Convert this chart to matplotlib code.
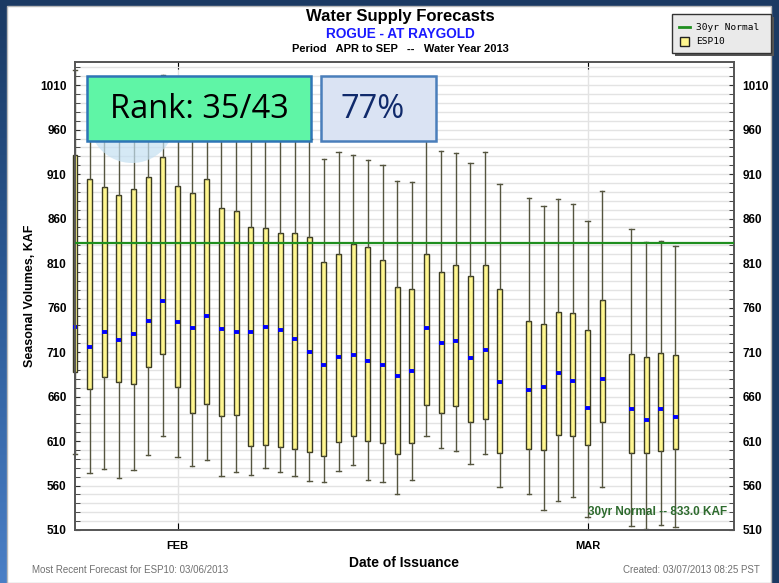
import matplotlib
matplotlib.use('Agg')
import matplotlib.pyplot as plt
import matplotlib.dates as mdates
from matplotlib.patches import Rectangle, Circle
import numpy as np
import pandas as pd

# ESP10 forecast spread for Rogue - At Raygold, Apr-Sep volume (KAF)
issue_dates = (list(pd.date_range('2013-01-25', '2013-02-23'))
               + list(pd.date_range('2013-02-25', '2013-03-02'))
               + list(pd.date_range('2013-03-04', '2013-03-07')))

ens_max = [1027, 1005, 1000, 995, 1010, 1015, 1021, 990, 985, 1000,
           975, 970, 960, 965, 960, 955, 950, 927, 935, 931,
           926, 920, 902, 901, 948, 936, 934, 922, 935, 899,
           883, 874, 882, 876, 857, 891,
           848, 834, 835, 829]
ens_q3 = [932, 904, 895, 886, 893, 907, 929, 897, 889, 904,
          872, 868, 851, 849, 844, 844, 839, 811, 820, 831,
          828, 814, 783, 781, 820, 800, 808, 796, 808, 781,
          745, 742, 755, 754, 735, 769,
          708, 705, 709, 707]
ens_median = [738, 716, 733, 724, 730, 745, 767, 744, 737, 750,
              736, 732, 732, 738, 735, 725, 710, 696, 705, 707,
              700, 695, 683, 689, 737, 720, 722, 703, 712, 676,
              667, 671, 686, 678, 647, 680,
              646, 634, 646, 637]
ens_q1 = [688, 668, 682, 676, 674, 693, 708, 671, 641, 652,
          638, 639, 604, 605, 603, 601, 598, 593, 609, 616,
          610, 608, 595, 608, 650, 641, 649, 631, 635, 596,
          601, 600, 617, 616, 606, 631,
          597, 597, 599, 601]
ens_min = [595, 574, 579, 569, 577, 594, 616, 592, 582, 589,
           571, 575, 572, 580, 575, 571, 565, 564, 576, 583,
           566, 564, 551, 566, 616, 602, 599, 584, 595, 558,
           550, 533, 543, 547, 525, 558,
           515, 511, 516, 513]

normal_kaf = 833.0
rank_text = 'Rank: 35/43'
pct_text = '77%'

W, H = 779, 583
fig = plt.figure(figsize=(W / 100, H / 100), dpi=100)
fig.patch.set_facecolor('#1b3a63')

# slide background + white chart panel
bg = fig.add_axes([0, 0, 1, 1], zorder=-5)
bg.set_xlim(0, W)
bg.set_ylim(H, 0)
bg.axis('off')
grad = np.linspace(0, 1, 200).reshape(-1, 1)
bg.imshow(grad, extent=(0, 7, H, 0), cmap=matplotlib.colors.LinearSegmentedColormap.from_list(
    'side', ['#1b3a63', '#2c5a96', '#4a7fc6']), aspect='auto')
bg.add_patch(Rectangle((7, 6), 764, H - 6, facecolor='white', edgecolor='#b8b8b8', lw=1))

# main plot
ax = fig.add_axes([75 / W, 1 - 530 / H, (734 - 75) / W, (530 - 62) / H], zorder=1)
x = mdates.date2num(issue_dates)
stats = [dict(whislo=lo, q1=a, med=m, q3=b, whishi=hi)
         for lo, a, m, b, hi in zip(ens_min, ens_q1, ens_median, ens_q3, ens_max)]
art = ax.bxp(stats, positions=x, widths=0.34, patch_artist=True, showfliers=False,
             manage_ticks=False, capwidths=0.3,
             boxprops=dict(facecolor='#fff68f', edgecolor='#3b3b22', lw=1),
             whiskerprops=dict(color='#55553f', lw=1),
             capprops=dict(color='#55553f', lw=1),
             medianprops=dict(color='#0000ff', lw=2.8, solid_capstyle='butt'))
for group in art.values():
    for a in group:
        a.set_clip_on(False)
        a.set_zorder(2)

ax.axhline(normal_kaf, color='#1f8f1f', lw=1.6, zorder=3)

x0 = mdates.date2num(pd.Timestamp('2013-01-25'))
ax.set_xlim(x0, x0 + 45)
ax.set_ylim(510, 1036)

ax.set_yticks(np.arange(510, 1011, 50))
ax.set_yticks(np.arange(510, 1036, 10), minor=True)
ax.set_xticks(mdates.date2num([pd.Timestamp('2013-02-01'), pd.Timestamp('2013-03-01')]))
ax.set_xticklabels(['FEB', 'MAR'])
ax.grid(True, which='both', axis='y', color='#e3e3e3', lw=1, zorder=0)
ax.grid(True, which='major', axis='x', color='#e3e3e3', lw=1, zorder=0)
ax.set_axisbelow(True)

lbl_font = dict(family=['Liberation Sans Narrow', 'Liberation Sans', 'DejaVu Sans'], weight='bold')
ax.tick_params(axis='y', which='both', direction='in', left=True, right=True,
               labelleft=True, labelright=True, length=3.5, color='#303030')
ax.tick_params(axis='y', which='major', labelsize=8.5, pad=6)
ax.tick_params(axis='x', direction='in', top=True, bottom=True, length=5,
               color='black', labelsize=8, pad=8)
for t in ax.get_yticklabels() + ax.get_xticklabels():
    t.set_fontproperties(matplotlib.font_manager.FontProperties(**lbl_font, size=t.get_fontsize()))
for s in ax.spines.values():
    s.set_color('#555555')
    s.set_linewidth(1.4)

# overlay in pixel coordinates for titles, notes and callouts
ov = fig.add_axes([0, 0, 1, 1], zorder=10)
ov.set_xlim(0, W)
ov.set_ylim(H, 0)
ov.axis('off')
ov.patch.set_alpha(0)

ov.text(400, 17, 'Water Supply Forecasts', ha='center', va='center', size=12, **lbl_font)
ov.text(400, 34, 'ROGUE - AT RAYGOLD', ha='center', va='center', size=9.8,
        color='#1a1aff', **lbl_font)
ov.text(400, 49, 'Period   APR to SEP   --   Water Year 2013', ha='center', va='center',
        size=8, **lbl_font)
ov.text(30, 296, 'Seasonal Volumes, KAF', ha='center', va='center', rotation=90,
        size=9, **lbl_font)
ov.text(404, 563, 'Date of Issuance', ha='center', va='center', size=10, **lbl_font)
ov.text(32, 570, 'Most Recent Forecast for ESP10: 03/06/2013', ha='left', va='center',
        size=7, color='#707070', family=lbl_font['family'])
ov.text(760, 570, 'Created: 03/07/2013 08:25 PST', ha='right', va='center',
        size=7, color='#707070', family=lbl_font['family'])
ov.text(727, 512, f'30yr Normal -- {normal_kaf:.1f} KAF', ha='right', va='center',
        size=8.5, color='#2e6b2e', **lbl_font)

# legend box
ov.add_patch(Rectangle((675, 17), 99, 39, facecolor='#555555', edgecolor='none'))
ov.add_patch(Rectangle((672, 14), 99, 39, facecolor='#eaeaea', edgecolor='#333333', lw=1))
ov.plot([679, 690], [27, 27], color='#1f8f1f', lw=2)
ov.text(696, 27, '30yr Normal', va='center', size=6.8, family='DejaVu Sans Mono')
ov.add_patch(Rectangle((680, 37), 9, 9, facecolor='#fff68f', edgecolor='#222222', lw=1))
ov.text(696, 41.5, 'ESP10', va='center', size=6.8, family='DejaVu Sans Mono')

# callouts
ov.add_patch(Circle((132, 120), 43, facecolor='#c4e0f2', edgecolor='none', alpha=0.7))
ov.add_patch(Rectangle((87, 76), 224, 65, facecolor='#5ff5a6', edgecolor='#2e75b6', lw=1.8))
ov.text(199, 109, rank_text, ha='center', va='center', size=23.5, family='Open Sans', color='black')
ov.add_patch(Rectangle((321, 76), 115, 65, facecolor='#dae3f3', edgecolor='#4a7ebb', lw=1.8))
ov.text(373, 109, pct_text, ha='center', va='center', size=23.5, family='Open Sans', color='#102a6b')

fig.savefig('out.png', dpi=100, facecolor=fig.get_facecolor())
